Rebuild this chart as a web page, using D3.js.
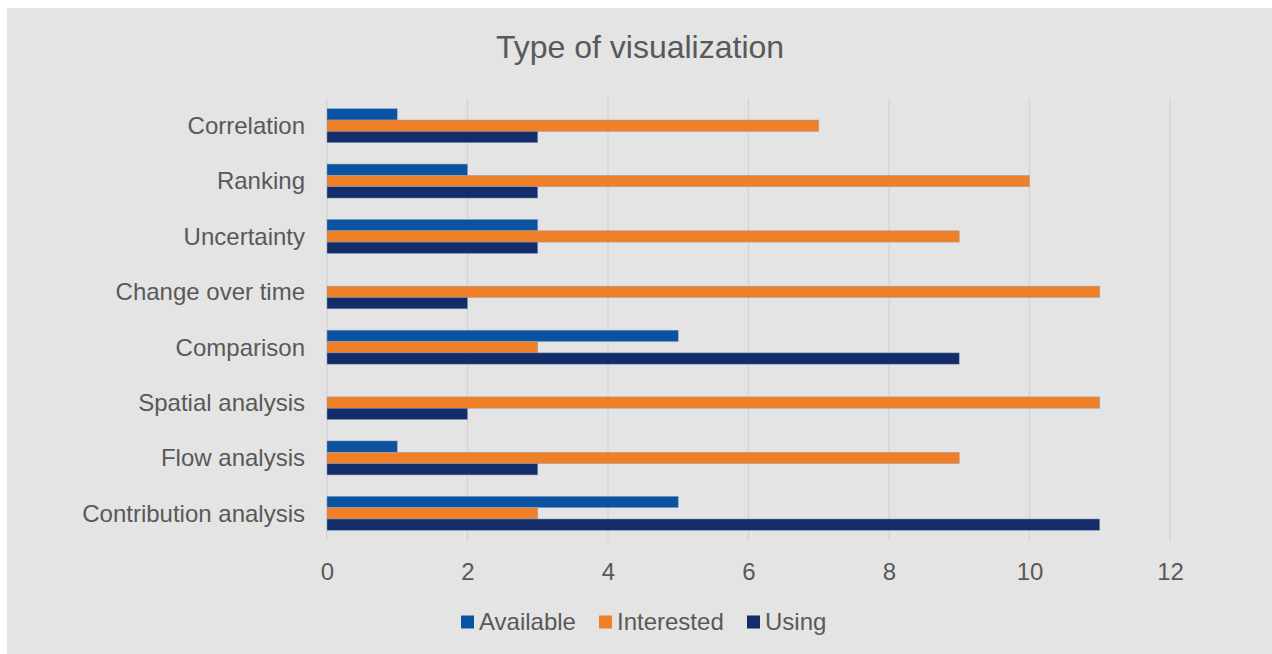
<!DOCTYPE html>
<html>
<head>
<meta charset="utf-8">
<script src="https://cdn.jsdelivr.net/npm/d3@7"></script>
<style>
  html, body { margin: 0; padding: 0; background: #ffffff; }
  svg { display: block; }
  text { font-family: "Liberation Sans", Arial, sans-serif; fill: #595959; }
</style>
</head>
<body>
<svg id="chart" width="1272" height="654"></svg>
<script>
// Categories, top to bottom
const categories = [
  "Correlation", "Ranking", "Uncertainty", "Change over time",
  "Comparison", "Spatial analysis", "Flow analysis", "Contribution analysis"
];
const seriesNames = ["Available", "Interested", "Using"];
const available  = [1, 2, 3, 0, 5, 0, 1, 5];
const interested = [7, 10, 9, 11, 3, 11, 9, 3];
const using      = [3, 3, 3, 2, 9, 2, 3, 11];
const xTicks = [0, 2, 4, 6, 8, 10, 12];
const colors = ["#0b52a1", "#f07f26", "#132d6b"];

const seriesValues = [available, interested, using];
const rows = categories.map((c, i) => ({
  category: c,
  values: seriesNames.map((s, k) => ({ series: s, value: seriesValues[k][i], k }))
}));

const svg = d3.select("#chart");
const W = 1272, H = 654;

// chart area background
svg.append("rect").attr("x", 7).attr("y", 8).attr("width", W - 7).attr("height", H - 8)
  .attr("fill", "#e4e4e4");

const plotLeft = 327, plotRight = 1170, plotTop = 98, plotBottom = 541;

const x = d3.scaleLinear().domain([0, 12]).range([plotLeft, plotRight]);
const y = d3.scaleBand().domain(categories).range([plotTop, plotBottom])
  .paddingInner(0.386).paddingOuter(0.193);
const ySub = d3.scaleBand().domain(seriesNames).range([0, y.bandwidth()]);

// title
svg.append("text").attr("x", 640).attr("y", 58).attr("text-anchor", "middle")
  .style("font-size", "32px").text("Type of visualization");

// vertical gridlines
svg.append("g").selectAll("line").data(xTicks).join("line")
  .attr("x1", d => x(d)).attr("x2", d => x(d))
  .attr("y1", plotTop).attr("y2", plotBottom)
  .attr("stroke", "#d3d3d3").attr("stroke-width", 1.3);

// x axis labels
const xAxis = d3.axisBottom(x).tickValues(xTicks).tickSize(0).tickPadding(0);
const gx = svg.append("g").attr("transform", `translate(0,${plotBottom + 31})`).call(xAxis);
gx.select(".domain").remove();
gx.selectAll("text").style("font-size", "24px").attr("fill", "#595959")
  .attr("y", 0).attr("dy", "0.35em");

// category labels
const yAxis = d3.axisLeft(y).tickSize(0).tickPadding(0);
const gy = svg.append("g").attr("transform", `translate(${plotLeft - 22},0)`).call(yAxis);
gy.select(".domain").remove();
gy.selectAll("text").style("font-size", "24px").attr("fill", "#595959")
  .attr("dy", "0.35em");

// bars
const groups = svg.append("g").selectAll("g").data(rows).join("g")
  .attr("transform", d => `translate(0,${y(d.category)})`);
groups.selectAll("rect").data(d => d.values.filter(v => v.value > 0)).join("rect")
  .attr("x", x(0))
  .attr("y", d => ySub(d.series))
  .attr("width", d => x(d.value) - x(0))
  .attr("height", ySub.bandwidth())
  .attr("fill", d => colors[d.k])
  .attr("stroke", "#8da2c2").attr("stroke-width", 0.6).attr("stroke-opacity", 0.8);

// legend
const legendItems = [
  { name: "Available", sx: 461 },
  { name: "Interested", sx: 599 },
  { name: "Using", sx: 747 }
];
const lg = svg.append("g").selectAll("g").data(legendItems).join("g")
  .attr("transform", d => `translate(${d.sx},622)`);
lg.append("rect").attr("x", 0).attr("y", -6.5).attr("width", 13).attr("height", 13)
  .attr("fill", (d, i) => colors[i]);
lg.append("text").attr("x", 18).attr("y", 0).attr("dy", "0.35em")
  .style("font-size", "24px").text(d => d.name);
</script>
</body>
</html>
